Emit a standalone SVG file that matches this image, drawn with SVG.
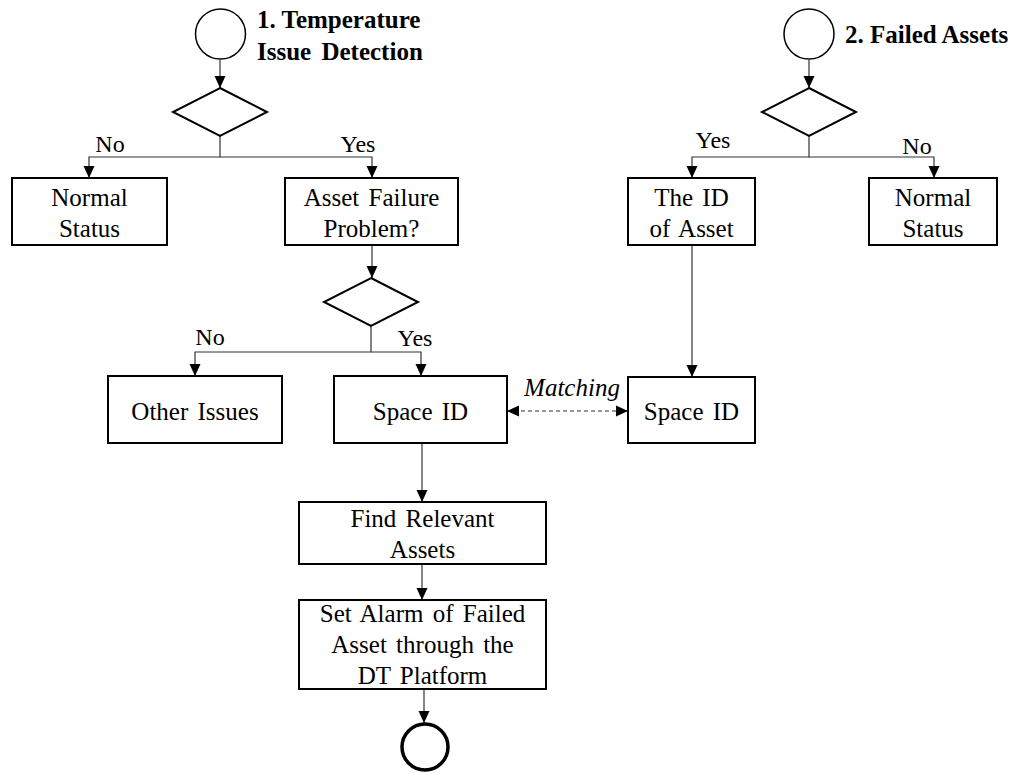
<svg xmlns="http://www.w3.org/2000/svg" width="1017" height="774" viewBox="0 0 1017 774">
<defs>
<style>
.box{fill:#fff;stroke:#000;stroke-width:2}
.dia{fill:#fff;stroke:#000;stroke-width:2}
.start{fill:#fff;stroke:#000;stroke-width:1.5}
.end{fill:#fff;stroke:#000;stroke-width:3.5}
.t{font-family:"Liberation Serif","Times New Roman",serif;font-size:25px;fill:#000;text-anchor:middle;word-spacing:3px}
.lbl{font-family:"Liberation Serif","Times New Roman",serif;font-size:24px;fill:#000;text-anchor:middle}
.title{font-family:"Liberation Serif","Times New Roman",serif;font-size:25px;font-weight:bold;fill:#000}
.it{font-family:"Liberation Serif","Times New Roman",serif;font-size:25px;font-style:italic;fill:#000;text-anchor:middle}
.c{fill:none;stroke:#333;stroke-width:1.2}
.d{fill:none;stroke:#333;stroke-width:1.2;stroke-dasharray:4 3}
</style>
<marker id="ah" markerUnits="userSpaceOnUse" markerWidth="12" markerHeight="12" viewBox="0 0 12 12" refX="12" refY="6" orient="auto-start-reverse">
<path d="M0,0.5 L12,6 L0,11.5 Z" fill="#000"/>
</marker>
</defs>

<g id="connectors">
<path class="c" d="M220,60 V88" marker-end="url(#ah)"/>
<path class="c" d="M220,136 V157 H89 V178" marker-end="url(#ah)"/>
<path class="c" d="M220,157 H372 V178" marker-end="url(#ah)"/>
<path class="c" d="M372,245 V278" marker-end="url(#ah)"/>
<path class="c" d="M371,326 V352 H195 V376" marker-end="url(#ah)"/>
<path class="c" d="M371,352 H421 V376" marker-end="url(#ah)"/>
<path class="c" d="M422,443 V502" marker-end="url(#ah)"/>
<path class="c" d="M422,564 V600" marker-end="url(#ah)"/>
<path class="c" d="M424,689 V723" marker-end="url(#ah)"/>
<path class="c" d="M809,60 V88" marker-end="url(#ah)"/>
<path class="c" d="M809,136 V157 H692 V178" marker-end="url(#ah)"/>
<path class="c" d="M809,157 H934 V178" marker-end="url(#ah)"/>
<path class="c" d="M692,245 V377" marker-end="url(#ah)"/>
<path class="d" d="M507,411 H628" marker-start="url(#ah)" marker-end="url(#ah)"/>
<text class="lbl" x="110" y="152">No</text>
<text class="lbl" x="358" y="152">Yes</text>
<text class="lbl" x="210" y="345">No</text>
<text class="lbl" x="415" y="346">Yes</text>
<text class="lbl" x="713" y="148">Yes</text>
<text class="lbl" x="917" y="154">No</text>
<text class="it" x="572" y="396">Matching</text>
</g>

<g id="start1">
<circle class="start" cx="220.5" cy="34" r="25"/>
<text class="title" x="257" y="28">1. Temperature</text>
<text class="title" x="257" y="60" word-spacing="4">Issue Detection</text>
</g>
<g id="decision1"><polygon class="dia" points="220,88 267,112 220,136 173,112"/></g>
<g id="normal1">
<rect class="box" x="12" y="178" width="155" height="67"/>
<text class="t" x="89.5" y="206">Normal</text>
<text class="t" x="89.5" y="237">Status</text>
</g>
<g id="assetFailure">
<rect class="box" x="285" y="178" width="173" height="67"/>
<text class="t" x="371.5" y="206">Asset Failure</text>
<text class="t" x="371.5" y="237">Problem?</text>
</g>
<g id="decision2"><polygon class="dia" points="371,278 418,302 371,326 324,302"/></g>
<g id="otherIssues">
<rect class="box" x="108" y="376" width="174" height="67"/>
<text class="t" x="195" y="420">Other Issues</text>
</g>
<g id="spaceId1">
<rect class="box" x="334" y="376" width="173" height="67"/>
<text class="t" x="420.5" y="420">Space ID</text>
</g>
<g id="findAssets">
<rect class="box" x="299" y="502" width="247" height="62"/>
<text class="t" x="422.5" y="527">Find Relevant</text>
<text class="t" x="422.5" y="558">Assets</text>
</g>
<g id="setAlarm">
<rect class="box" x="299" y="600" width="247" height="89"/>
<text class="t" x="422.5" y="622">Set Alarm of Failed</text>
<text class="t" x="422.5" y="653">Asset through the</text>
<text class="t" x="422.5" y="684">DT Platform</text>
</g>
<g id="end"><circle class="end" cx="425" cy="747" r="23"/></g>

<g id="start2">
<circle class="start" cx="809" cy="34" r="25"/>
<text class="title" x="845" y="43">2. Failed Assets</text>
</g>
<g id="decision3"><polygon class="dia" points="809,88 856,112 809,136 762,112"/></g>
<g id="assetId">
<rect class="box" x="628" y="178" width="127" height="67"/>
<text class="t" x="691.5" y="206">The ID</text>
<text class="t" x="691.5" y="237">of Asset</text>
</g>
<g id="normal2">
<rect class="box" x="869" y="178" width="128" height="67"/>
<text class="t" x="933" y="206">Normal</text>
<text class="t" x="933" y="237">Status</text>
</g>
<g id="spaceId2">
<rect class="box" x="628" y="377" width="127" height="66"/>
<text class="t" x="691.5" y="420">Space ID</text>
</g>
</svg>
